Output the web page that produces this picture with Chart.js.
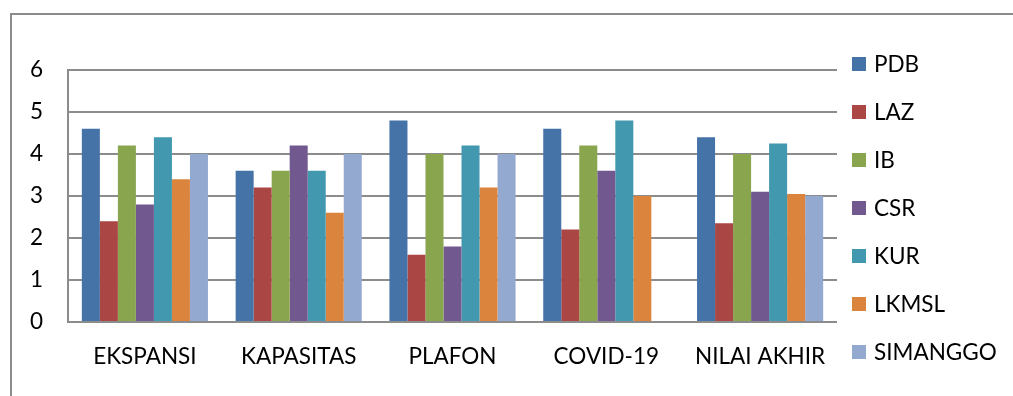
<!DOCTYPE html>
<html>
<head>
<meta charset="utf-8">
<script src="https://cdn.jsdelivr.net/npm/chart.js@4/dist/chart.umd.min.js"></script>
<style>
  html, body { margin: 0; padding: 0; background: #fff; }
  #wrap { position: relative; width: 1013px; height: 396px; overflow: hidden; }
  #frame { position: absolute; left: 10px; top: 13px; width: 1100px; height: 500px;
           border: 2px solid #8c8c8c; box-sizing: border-box; }
  #c { position: absolute; left: 0; top: 0; }
</style>
</head>
<body>
<div id="wrap">
  <div id="frame"></div>
  <canvas id="c" width="1013" height="396"></canvas>
</div>
<script>
// Categories and series values
const categories = ['EKSPANSI', 'KAPASITAS', 'PLAFON', 'COVID-19', 'NILAI AKHIR'];
const seriesNames = ['PDB', 'LAZ', 'IB', 'CSR', 'KUR', 'LKMSL', 'SIMANGGO'];
const PDB      = [4.6, 3.6, 4.8, 4.6, 4.4];
const LAZ      = [2.4, 3.2, 1.6, 2.2, 2.35];
const IB       = [4.2, 3.6, 4.0, 4.2, 4.0];
const CSR      = [2.8, 4.2, 1.8, 3.6, 3.1];
const KUR      = [4.4, 3.6, 4.2, 4.8, 4.25];
const LKMSL    = [3.4, 2.6, 3.2, 3.0, 3.05];
const SIMANGGO = [4.0, 4.0, 4.0, 0, 3.0];
const yTicks   = [0, 1, 2, 3, 4, 5, 6];

const seriesValues = [PDB, LAZ, IB, CSR, KUR, LKMSL, SIMANGGO];
const colors = ['#4572A7', '#AA4643', '#89A54E', '#71588F', '#4198AF', '#DB843D', '#93A9CF'];

const FONT = 'Lato, "Open Sans", sans-serif';
const FSIZE = 22.5;

// Legend drawn as a column on the right side of the plot
const sideLegend = {
  id: 'sideLegend',
  afterDraw(chart) {
    const ctx = chart.ctx;
    ctx.save();
    ctx.font = FSIZE + 'px ' + FONT;
    ctx.textBaseline = 'middle';
    ctx.textAlign = 'left';
    chart.data.datasets.forEach((ds, i) => {
      const cy = 64 + i * 48;
      ctx.fillStyle = ds.backgroundColor;
      ctx.fillRect(852, cy - 7, 14, 14);
      ctx.fillStyle = '#000';
      ctx.fillText(ds.label, 874, cy + 1);
    });
    ctx.restore();
  }
};

new Chart(document.getElementById('c'), {
  type: 'bar',
  data: {
    labels: categories,
    datasets: seriesNames.map((name, i) => ({
      label: name,
      data: seriesValues[i],
      backgroundColor: colors[i],
      borderWidth: 0,
      barPercentage: 1,
      categoryPercentage: 0.82
    }))
  },
  options: {
    responsive: false,
    animation: false,
    layout: { padding: { top: 70, right: 176, left: 0, bottom: 0 } },
    plugins: { legend: { display: false }, tooltip: { enabled: false } },
    scales: {
      x: {
        grid: { display: false, drawTicks: false },
        border: { display: false },
        ticks: { color: '#000', font: { family: FONT, size: FSIZE }, padding: 21, maxRotation: 0 },
        afterFit(s) { s.height = 74; }
      },
      y: {
        min: 0, max: 6,
        afterBuildTicks(s) { s.ticks = yTicks.map(v => ({ value: v })); },
        grid: { color: '#8c8c8c', lineWidth: 2, drawTicks: false },
        border: { display: true, color: '#8c8c8c', width: 2 },
        ticks: { color: '#000', font: { family: FONT, size: FSIZE }, padding: 25 },
        afterFit(s) { s.width = 68; }
      }
    }
  },
  plugins: [sideLegend]
});
</script>
</body>
</html>
